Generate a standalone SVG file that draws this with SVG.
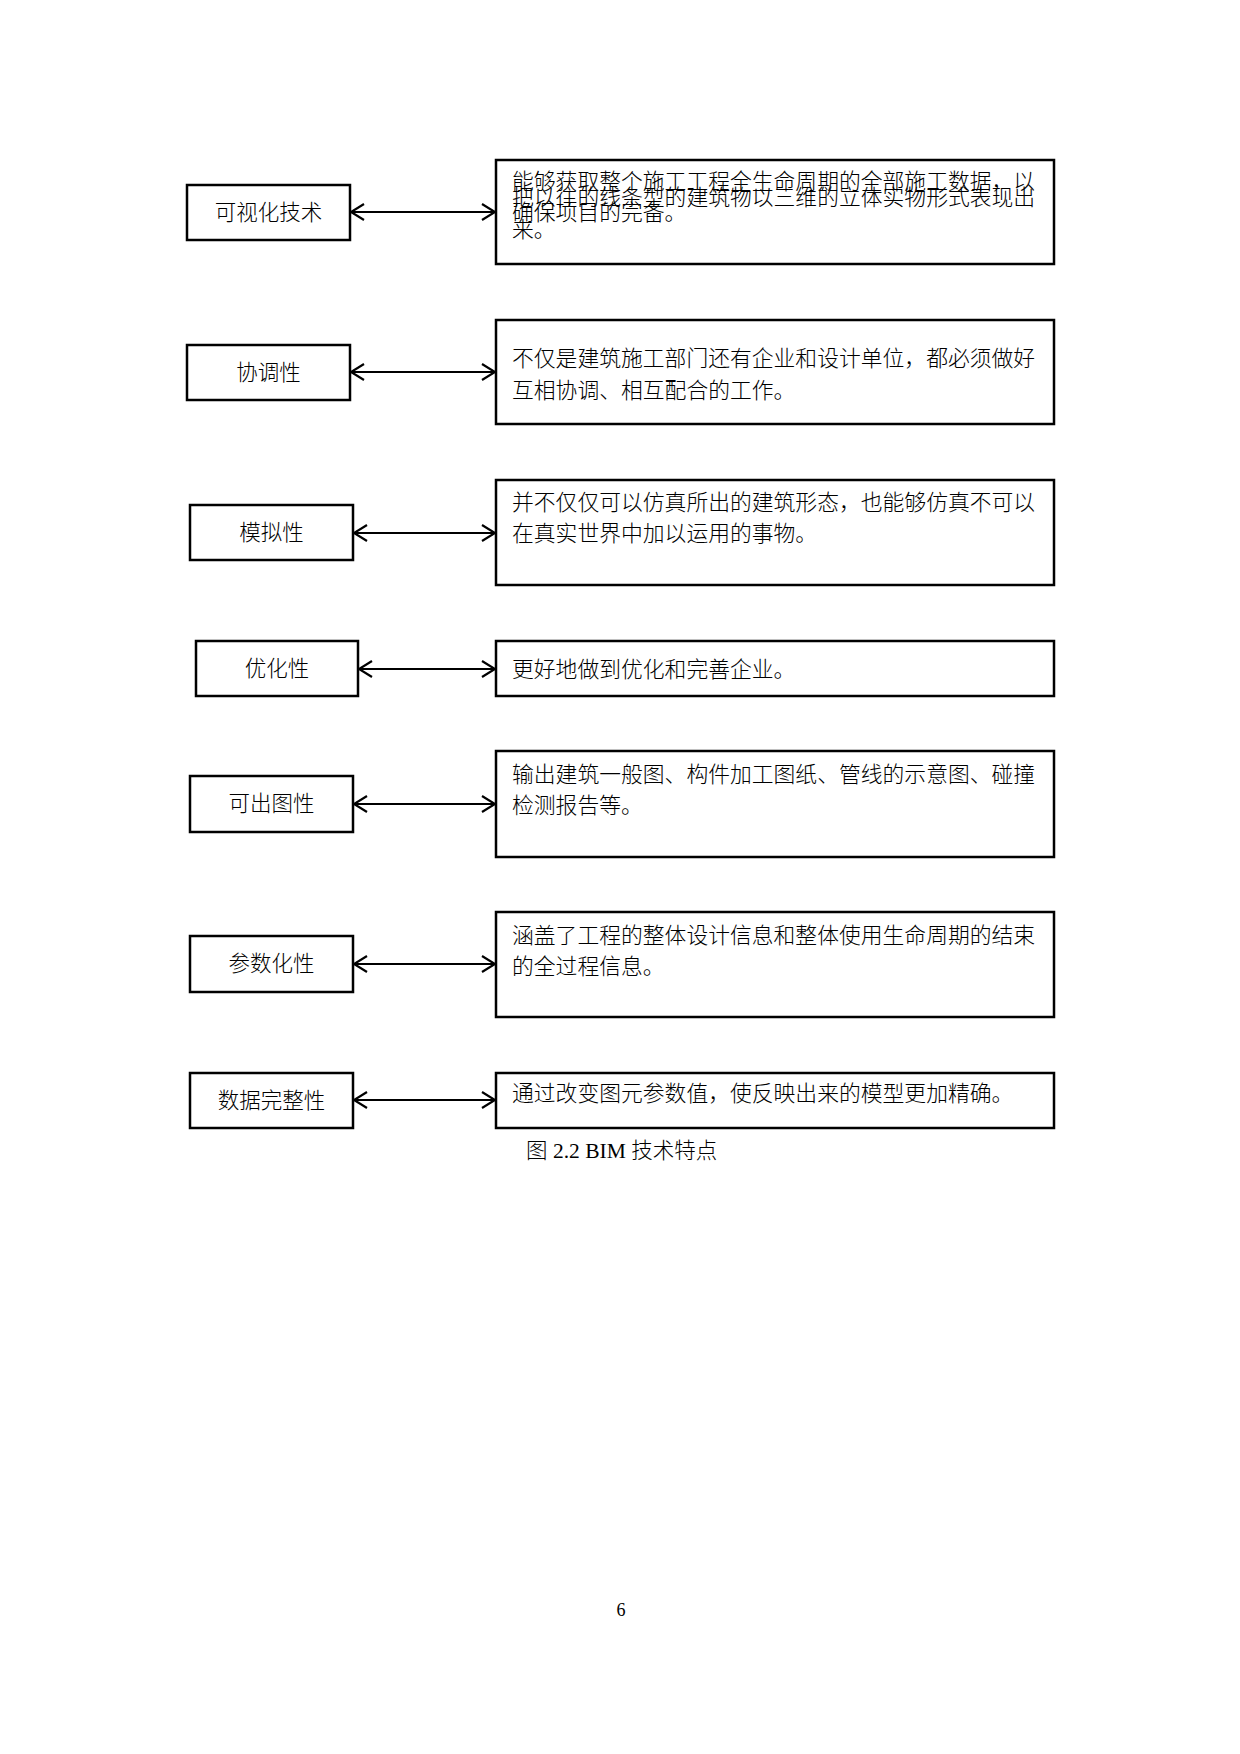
<svg xmlns="http://www.w3.org/2000/svg" width="1240" height="1754" viewBox="0 0 1240 1754">
<style>
.bg{fill:#ffffff}
.box{fill:#ffffff;stroke:#000000;stroke-width:2.5}
.lbl{font-family:"Noto Sans CJK SC","Noto Sans",sans-serif;font-size:21.5px;fill:#000;text-anchor:middle;font-weight:300}
.txt{font-family:"Noto Sans CJK SC","Noto Sans",sans-serif;font-size:21.8px;fill:#000;font-weight:300}
.conn{stroke:#000;stroke-width:2.2;fill:none;marker-start:url(#ah);marker-end:url(#ah)}
.cap{font-family:"Liberation Serif","Noto Sans CJK SC",serif;font-size:21.5px;fill:#000}
.cj{font-family:"Noto Sans CJK SC",sans-serif;font-weight:300}
.pg{font-family:"Liberation Serif",serif;font-size:18px;fill:#000;text-anchor:middle}
</style>
<defs>
<marker id="ah" viewBox="-16 -10 18 20" refX="0" refY="0" markerWidth="18" markerHeight="20" markerUnits="userSpaceOnUse" orient="auto-start-reverse">
<path d="M-13,-8 L0,0 L-13,8" fill="none" stroke="#000" stroke-width="2.2"/>
</marker>
</defs>
<rect class="bg" x="0" y="0" width="1240" height="1754"/>

<g id="connectors">
<line class="conn" x1="351" y1="212" x2="495" y2="212"/>
<line class="conn" x1="351" y1="372" x2="495" y2="372"/>
<line class="conn" x1="354" y1="533" x2="495" y2="533"/>
<line class="conn" x1="359" y1="669" x2="495" y2="669"/>
<line class="conn" x1="354" y1="804" x2="495" y2="804"/>
<line class="conn" x1="354" y1="964" x2="495" y2="964"/>
<line class="conn" x1="354" y1="1100" x2="495" y2="1100"/>
</g>

<g id="n1">
<rect class="box" x="187" y="185" width="163" height="55"/>
<text class="lbl" x="268.5" y="220">可视化技术</text>
</g>
<g id="d1">
<rect class="box" x="496" y="160" width="558" height="104"/>
<text class="txt" x="512" y="189">能够获取整个施工工程全生命周期的全部施工数据，以</text>
<text class="txt" x="512" y="220">确保项目的完备。</text>
<text class="txt" x="512" y="205">把以往的线条型的建筑物以三维的立体实物形式表现出</text>
<text class="txt" x="512" y="237">来。</text>
</g>

<g id="n2">
<rect class="box" x="187" y="345" width="163" height="55"/>
<text class="lbl" x="268.5" y="380">协调性</text>
</g>
<g id="d2">
<rect class="box" x="496" y="320" width="558" height="104"/>
<text class="txt" x="512" y="366">不仅是建筑施工部门还有企业和设计单位，都必须做好</text>
<text class="txt" x="512" y="398">互相协调、相互配合的工作。</text>
</g>

<g id="n3">
<rect class="box" x="190" y="505" width="163" height="55"/>
<text class="lbl" x="271.5" y="540">模拟性</text>
</g>
<g id="d3">
<rect class="box" x="496" y="480" width="558" height="105"/>
<text class="txt" x="512" y="510">并不仅仅可以仿真所出的建筑形态，也能够仿真不可以</text>
<text class="txt" x="512" y="541">在真实世界中加以运用的事物。</text>
</g>

<g id="n4">
<rect class="box" x="196" y="641" width="162" height="55"/>
<text class="lbl" x="277" y="676">优化性</text>
</g>
<g id="d4">
<rect class="box" x="496" y="641" width="558" height="55"/>
<text class="txt" x="512" y="677">更好地做到优化和完善企业。</text>
</g>

<g id="n5">
<rect class="box" x="190" y="776" width="163" height="56"/>
<text class="lbl" x="271.5" y="811">可出图性</text>
</g>
<g id="d5">
<rect class="box" x="496" y="751" width="558" height="106"/>
<text class="txt" x="512" y="782">输出建筑一般图、构件加工图纸、管线的示意图、碰撞</text>
<text class="txt" x="512" y="813">检测报告等。</text>
</g>

<g id="n6">
<rect class="box" x="190" y="936" width="163" height="56"/>
<text class="lbl" x="271.5" y="971">参数化性</text>
</g>
<g id="d6">
<rect class="box" x="496" y="912" width="558" height="105"/>
<text class="txt" x="512" y="943">涵盖了工程的整体设计信息和整体使用生命周期的结束</text>
<text class="txt" x="512" y="974">的全过程信息。</text>
</g>

<g id="n7">
<rect class="box" x="190" y="1073" width="163" height="55"/>
<text class="lbl" x="271.5" y="1108">数据完整性</text>
</g>
<g id="d7">
<rect class="box" x="496" y="1073" width="558" height="55"/>
<text class="txt" x="512" y="1101">通过改变图元参数值，使反映出来的模型更加精确。</text>
</g>

<text class="cap" x="526" y="1158"><tspan class="cj">图</tspan> 2.2 BIM <tspan class="cj">技术特点</tspan></text>
<text class="pg" x="621" y="1616">6</text>
</svg>
